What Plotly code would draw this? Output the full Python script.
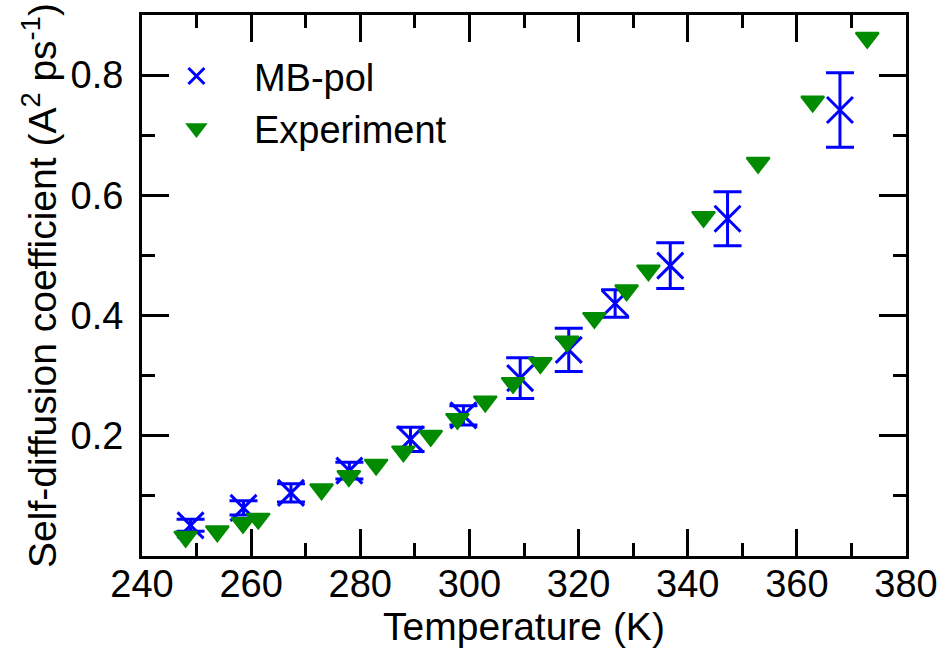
import plotly.graph_objects as go

# MB-pol simulation
mb_T = [248.9, 258.6, 267.3, 278.0, 289.2, 298.9, 309.3, 318.2, 326.7, 336.8, 347.3, 367.9]
mb_D = [0.051, 0.080, 0.105, 0.142, 0.194, 0.234, 0.296, 0.343, 0.420, 0.483, 0.561, 0.742]
mb_err = [0.010, 0.012, 0.015, 0.014, 0.020, 0.016, 0.034, 0.036, 0.023, 0.038, 0.045, 0.062]

# Experiment
exp_T = [248.0, 253.8, 258.5, 261.3, 272.9, 277.9, 282.9, 287.9, 292.9, 297.8, 302.9,
         308.0, 313.0, 317.9, 322.9, 328.8, 332.8, 342.9, 352.9, 362.9, 372.9]
exp_D = [0.032, 0.041, 0.055, 0.062, 0.111, 0.133, 0.152, 0.174, 0.200, 0.228, 0.257,
         0.288, 0.321, 0.357, 0.396, 0.442, 0.475, 0.564, 0.654, 0.756, 0.862]

x_ticks = [240, 260, 280, 300, 320, 340, 360, 380]
y_ticks = [0.2, 0.4, 0.6, 0.8]
y_ticktext = ["0.2", "0.4", "0.6", "0.8"]

FONT = "Liberation Sans, Arial, Helvetica, sans-serif"
BLUE = "#0000ff"
GREEN = "#008b00"
FS = 38

fig = go.Figure()
fig.add_trace(go.Scatter(
    x=mb_T, y=mb_D, mode="markers", name="MB-pol",
    marker=dict(symbol="x-thin-open", size=26, color=BLUE, line=dict(color=BLUE, width=3)),
    error_y=dict(type="data", array=mb_err, visible=True, color=BLUE, thickness=3, width=14),
    legendgroup="a",
))
fig.add_trace(go.Scatter(
    x=exp_T, y=exp_D, mode="markers", name="Experiment",
    marker=dict(symbol="triangle-down", size=20, color=GREEN, line=dict(color=GREEN, width=2)),
    legendgroup="b",
))

axis_common = dict(
    showline=True, linecolor="black", linewidth=3, mirror="allticks",
    ticks="inside", ticklen=27, tickwidth=2.5, tickcolor="black",
    showgrid=False, zeroline=False, automargin=False,
    tickfont=dict(family=FONT, size=FS, color="black"),
)

fig.update_layout(
    width=941, height=648,
    margin=dict(l=141.5, r=35, t=15, b=91.5),
    paper_bgcolor="white", plot_bgcolor="white",
    font=dict(family=FONT, color="black"),
    showlegend=True,
    legend=dict(
        x=-0.004, y=0.945, xanchor="left", yanchor="top",
        font=dict(family=FONT, size=FS, color="black"),
        bgcolor="rgba(0,0,0,0)", borderwidth=0,
        traceorder="grouped", tracegroupgap=0, itemwidth=105,
    ),
    xaxis=dict(
        range=[240, 380], tickmode="array", tickvals=x_ticks,
        minor=dict(tickmode="linear", tick0=240, dtick=10, ticks="inside",
                   ticklen=13, tickwidth=2.5, tickcolor="black"),
        title=dict(text="Temperature (K)", font=dict(family=FONT, size=FS + 1), standoff=6),
        ticklabelstandoff=-8,
        **axis_common,
    ),
    yaxis=dict(
        range=[0, 0.9], tickmode="array", tickvals=y_ticks, ticktext=y_ticktext,
        minor=dict(tickmode="array", tickvals=[0.1, 0.3, 0.5, 0.7], ticks="inside",
                   ticklen=13, tickwidth=2.5, tickcolor="black"),
        title=dict(text="Self-diffusion coefficient (A<sup>2</sup> ps<sup>-1</sup>)",
                   font=dict(family=FONT, size=FS + 1), standoff=2),
        ticklabelstandoff=8,
        **axis_common,
    ),
)

fig.write_html("out.html")
